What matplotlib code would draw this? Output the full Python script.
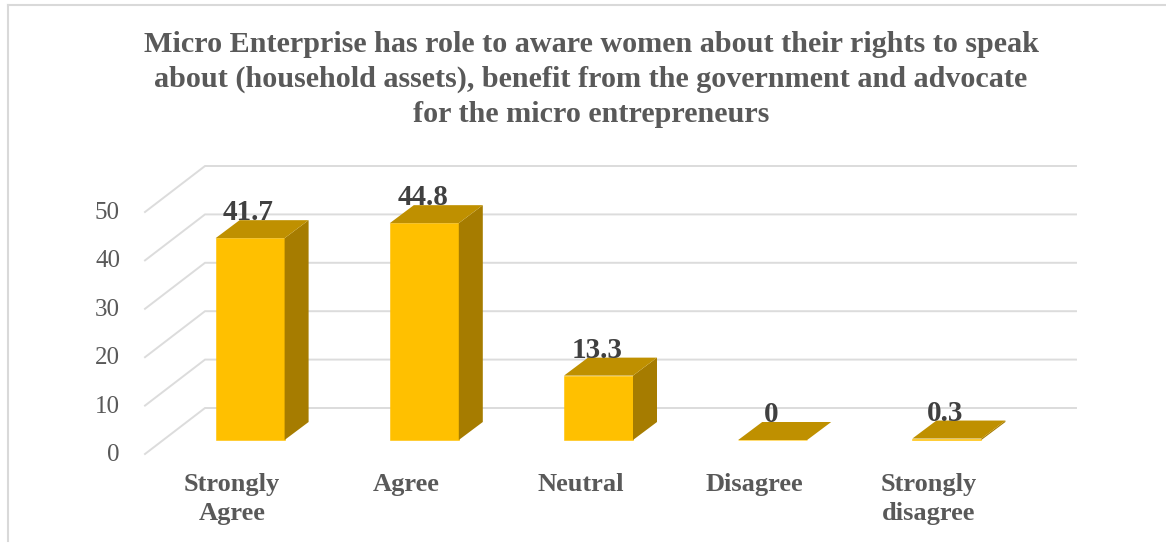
import matplotlib
matplotlib.use("Agg")
import matplotlib.pyplot as plt
from matplotlib.lines import Line2D
from matplotlib.patches import Polygon
from matplotlib.transforms import ScaledTranslation

plt.rcParams['font.family'] = ['Liberation Serif', 'DejaVu Serif']

categories = ["Strongly\nAgree", "Agree", "Neutral", "Disagree", "Strongly\ndisagree"]
values = [41.7, 44.8, 13.3, 0, 0.3]
value_labels = ["41.7", "44.8", "13.3", "0", "0.3"]
y_ticks = [0, 10, 20, 30, 40, 50]
title = ("Micro Enterprise has role to aware women about their rights to speak\n"
         "about (household assets), benefit from the government and advocate\n"
         "for the micro entrepreneurs")

W, H = 1166, 543
fig = plt.figure(figsize=(W / 100, H / 100), dpi=100, facecolor="white")
ax = fig.add_axes([145 / W, (H - 454) / H, 871 / W, 242 / H])
ax.set_xlim(-0.5, 4.5)
ax.set_ylim(0, 50)
ax.patch.set_alpha(0)
for s in ax.spines.values():
    s.set_visible(False)

px_x = 871 / 5
px_y = 242 / 50
wall_dx, wall_dy = 60 / px_x, 46 / px_y
bar_dx, bar_dy = 18.5 / px_x, 14 / px_y
depth_x, depth_y = 24 / px_x, 18 / px_y
bar_w = 69 / px_x

GRID = "#DCDCDC"
for t in y_ticks:
    ax.plot([-0.5, -0.5 + wall_dx, 4.5 + wall_dx], [t, t + wall_dy, t + wall_dy],
            color=GRID, lw=1.4, clip_on=False, zorder=1, solid_joinstyle="miter")

xs = list(range(len(values)))
for x, v in zip(xs, values):
    l = x + bar_dx - 0.5 / px_x - bar_w / 2
    r = l + bar_w
    b = bar_dy
    t = b + v
    ax.bar(l + bar_w / 2, v, bar_w, bottom=b, color="#FFC000", edgecolor="#FFC000",
           lw=0.4, zorder=3, clip_on=False)
    ax.add_patch(Polygon([(r, b), (r + depth_x, b + depth_y), (r + depth_x, t + depth_y), (r, t)],
                         closed=True, fc="#A67C00", ec="none", zorder=3, clip_on=False))
    ax.add_patch(Polygon([(l, t), (r, t), (r + depth_x, t + depth_y), (l + depth_x, t + depth_y)],
                         closed=True, fc="#BF9000", ec="none", zorder=4, clip_on=False))

for x, v, s in zip(xs, values, value_labels):
    ax.text(x + bar_dx - 2 / px_x, v + bar_dy + depth_y, s, ha="center", va="baseline",
            fontsize=21, fontweight="bold", color="#404040", zorder=5, clip_on=False)

ax.set_yticks(y_ticks)
ax.set_xticks(xs)
ax.set_xticklabels(categories, fontsize=19, fontweight="bold", color="#595959", linespacing=1.33)
ax.tick_params(axis="x", length=0, pad=13.5)
ax.tick_params(axis="y", length=0, pad=18, labelsize=18, labelcolor="#595959")
shift = ScaledTranslation(0, 1.5 / 100, fig.dpi_scale_trans)
for lab in ax.get_yticklabels():
    lab.set_transform(lab.get_transform() + shift)

fig.text(591 / W, 1 - 79.5 / H, title, ha="center", va="center", fontsize=21.7,
         fontweight="bold", color="#595959", linespacing=1.37)

BORDER = "#D9D9D9"
fig.add_artist(Line2D([8 / W, 8 / W], [1 - 5 / H, 1 - 541 / H], color=BORDER, lw=1.5))
fig.add_artist(Line2D([8 / W, 1], [1 - 5 / H, 1 - 5 / H], color=BORDER, lw=1.5))

fig.savefig("out.png", dpi=100)
